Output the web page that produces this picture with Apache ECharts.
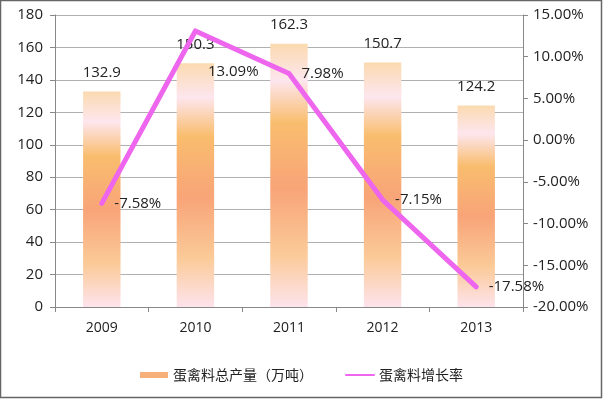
<!DOCTYPE html>
<html>
<head>
<meta charset="utf-8">
<script src="https://cdn.jsdelivr.net/npm/echarts@6/dist/echarts.min.js"></script>
<style>
    html, body { margin: 0; padding: 0; background: #fff; }
    #chart { width: 603px; height: 399px; }
</style>
</head>
<body>
<div id="chart"></div>
<script>
    // 年份
    var years = ['2009', '2010', '2011', '2012', '2013']
    // 蛋禽料总产量（万吨）
    var output = [132.9, 150.3, 162.3, 150.7, 124.2]
    // 蛋禽料增长率 (%)
    var growth = [-7.58, 13.09, 7.98, -7.15, -17.58]

    var numFont = 'Open Sans'
    var cjkFont = 'Noto Sans CJK SC'

    var barColor = new echarts.graphic.LinearGradient(0, 0, 0, 1, [
        { offset: 0, color: '#fbdab0' },
        { offset: 0.14, color: '#fde6ee' },
        { offset: 0.3, color: '#f9bd6e' },
        { offset: 0.55, color: '#f8a478' },
        { offset: 0.8, color: '#fbca98' },
        { offset: 1, color: '#fde3ec' }
    ])

    var lineData = growth.map(function (v, i) {
        var item = { value: v }
        if (i === 1) {
            item.label = { offset: [0, 41] }
        }
        return item
    })

    var chart = echarts.init(document.getElementById('chart'))
    chart.setOption({
        animation: false,
        textStyle: { fontFamily: numFont },
        graphic: [{
            type: 'rect',
            shape: { x: 0.5, y: 0.5, width: 601, height: 397 },
            style: { fill: 'none', stroke: '#666', lineWidth: 1.5 },
            z: 100
        }],
        grid: { left: 55, right: 80, top: 15, bottom: 92 },
        legend: {
            bottom: 12,
            left: 'center',
            itemGap: 32,
            itemWidth: 28,
            itemHeight: 6,
            textStyle: { fontFamily: cjkFont, fontSize: 14, color: '#222' },
            data: [
                { name: '蛋禽料总产量（万吨）', icon: 'rect', itemStyle: { color: '#f8b07a' } },
                { name: '蛋禽料增长率', lineStyle: { width: 2, color: '#ee66ee' }, itemStyle: { opacity: 0 } }
            ]
        },
        xAxis: {
            type: 'category',
            data: years,
            axisLine: { lineStyle: { color: '#888' } },
            axisTick: { show: true, length: 5, lineStyle: { color: '#888' } },
            axisLabel: { color: '#222', fontSize: 14, margin: 14 }
        },
        yAxis: [{
            type: 'value',
            min: 0,
            max: 180,
            interval: 20,
            axisLine: { show: true, lineStyle: { color: '#888' } },
            axisTick: { show: true, length: 5, lineStyle: { color: '#888' } },
            axisLabel: { color: '#222', fontSize: 15, margin: 12 },
            splitLine: { lineStyle: { color: '#b0b0b0' } }
        }, {
            type: 'value',
            min: -20,
            max: 15,
            interval: 5,
            axisLine: { show: true, lineStyle: { color: '#888' } },
            axisTick: { show: true, length: 5, lineStyle: { color: '#888' } },
            axisLabel: {
                color: '#222', fontSize: 15, margin: 10,
                formatter: function (v) { return v.toFixed(2) + '%' }
            },
            splitLine: { show: false }
        }],
        series: [{
            name: '蛋禽料总产量（万吨）',
            type: 'bar',
            barWidth: '40%',
            data: output,
            itemStyle: { color: barColor },
            label: {
                show: true,
                position: 'top',
                distance: 11,
                color: '#222',
                fontSize: 15
            }
        }, {
            name: '蛋禽料增长率',
            type: 'line',
            yAxisIndex: 1,
            data: lineData,
            symbol: 'circle',
            symbolSize: 1,
            lineStyle: { color: '#ee66ee', width: 5, cap: 'round', join: 'round' },
            itemStyle: { color: '#ee66ee' },
            label: {
                show: true,
                position: 'right',
                distance: 12,
                color: '#222',
                fontSize: 15,
                formatter: function (p) { return p.value.toFixed(2) + '%' }
            },
            z: 5
        }]
    })
</script>
</body>
</html>
